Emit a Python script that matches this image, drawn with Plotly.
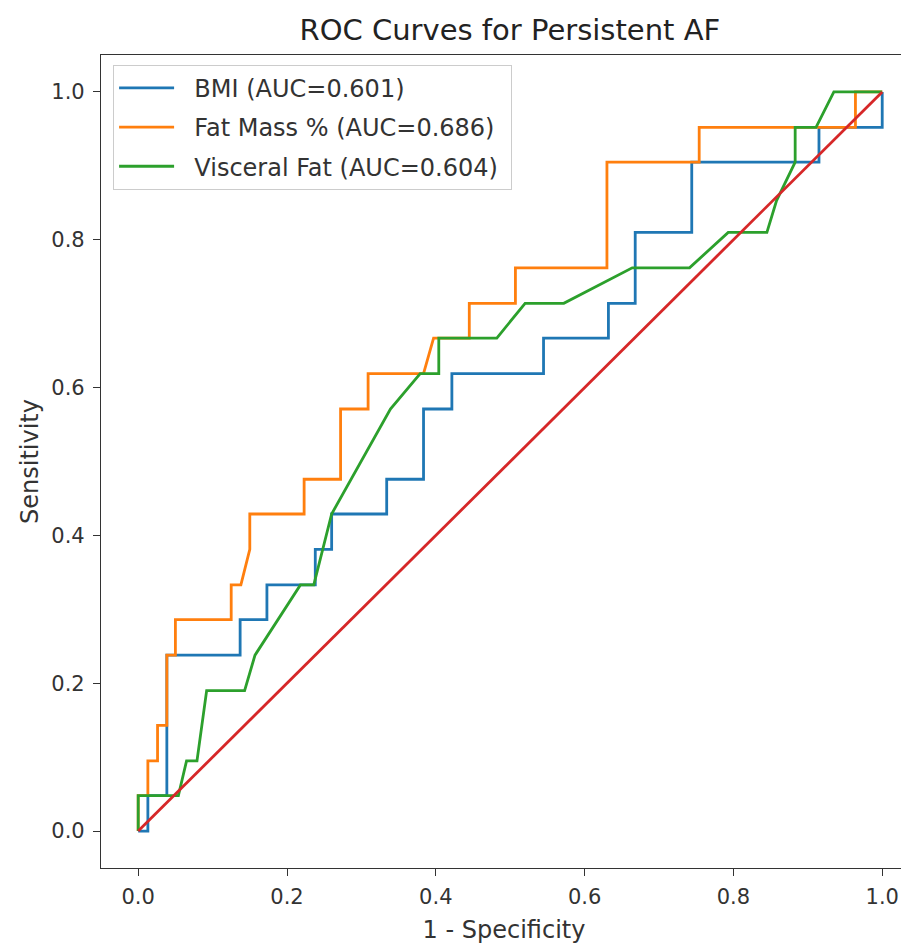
import plotly.graph_objects as go

# ROC curve vertices (1 - specificity, sensitivity)
bmi_fpr = [0.0, 0.013, 0.013, 0.0385, 0.0385, 0.137, 0.137, 0.173, 0.173, 0.238, 0.238,
           0.260, 0.260, 0.334, 0.334, 0.3835, 0.3835, 0.4216, 0.4216, 0.5448, 0.5448,
           0.632, 0.632, 0.668, 0.668, 0.744, 0.744, 0.915, 0.915, 1.0, 1.0]
bmi_tpr = [0.0, 0.0, 0.048, 0.048, 0.238, 0.238, 0.286, 0.286, 0.333, 0.333, 0.381,
           0.381, 0.429, 0.429, 0.476, 0.476, 0.571, 0.571, 0.619, 0.619, 0.667,
           0.667, 0.714, 0.714, 0.810, 0.810, 0.905, 0.905, 0.952, 0.952, 1.0]

fat_fpr = [0.0, 0.0, 0.013, 0.013, 0.026, 0.026, 0.0385, 0.0385, 0.050, 0.050, 0.125,
           0.125, 0.138, 0.150, 0.150, 0.223, 0.223, 0.272, 0.272, 0.309, 0.309,
           0.3835, 0.397, 0.445, 0.445, 0.507, 0.507, 0.630, 0.630, 0.754, 0.754,
           0.964, 0.964, 1.0]
fat_tpr = [0.0, 0.048, 0.048, 0.095, 0.095, 0.143, 0.143, 0.238, 0.238, 0.286, 0.286,
           0.333, 0.333, 0.381, 0.429, 0.429, 0.476, 0.476, 0.571, 0.571, 0.619,
           0.619, 0.667, 0.667, 0.714, 0.714, 0.762, 0.762, 0.905, 0.905, 0.952,
           0.952, 1.0, 1.0]

vis_fpr = [0.0, 0.0, 0.054, 0.065, 0.079, 0.092, 0.143, 0.157, 0.218, 0.236, 0.260,
           0.339, 0.379, 0.404, 0.404, 0.482, 0.520, 0.572, 0.664, 0.741, 0.793,
           0.845, 0.858, 0.883, 0.883, 0.911, 0.935, 1.0]
vis_tpr = [0.0, 0.048, 0.048, 0.095, 0.095, 0.190, 0.190, 0.238, 0.333, 0.333, 0.429,
           0.571, 0.619, 0.619, 0.667, 0.667, 0.714, 0.714, 0.762, 0.762, 0.810,
           0.810, 0.853, 0.905, 0.952, 0.952, 1.0, 1.0]

chance_x = [0.0, 1.0]
chance_y = [0.0, 1.0]

names = ["BMI (AUC=0.601)", "Fat Mass % (AUC=0.686)", "Visceral Fat (AUC=0.604)"]
colors = ["#1f77b4", "#ff7f0e", "#2ca02c"]
tick_vals = [0.0, 0.2, 0.4, 0.6, 0.8, 1.0]
tick_text = ["0.0", "0.2", "0.4", "0.6", "0.8", "1.0"]

FONT = "DejaVu Sans"
LW = 2.8
NBSP = "\u00a0"

fig = go.Figure()
for i, (xs, ys) in enumerate([(bmi_fpr, bmi_tpr), (fat_fpr, fat_tpr), (vis_fpr, vis_tpr)]):
    fig.add_trace(go.Scatter(x=xs, y=ys, mode="lines",
                             name=NBSP * 2 + names[i] + NBSP,
                             legendgroup=f"g{i}",
                             line=dict(color=colors[i], width=LW)))
fig.add_trace(go.Scatter(x=chance_x, y=chance_y, mode="lines", showlegend=False,
                         line=dict(color="#d62728", width=LW)))

axis_common = dict(
    showgrid=False, zeroline=False, showline=True, linecolor="#333333", linewidth=1.2,
    mirror=True, ticks="outside", ticklen=7, tickwidth=1.2, tickcolor="#333333",
    tickvals=tick_vals, ticktext=tick_text,
    tickfont=dict(family=FONT, size=21, color="#333333"),
)

fig.update_layout(
    width=901, height=937,
    margin=dict(l=93, r=2, t=47, b=77),
    paper_bgcolor="white", plot_bgcolor="white",
    title=dict(text="ROC Curves for Persistent AF", x=0.557, xanchor="center",
               y=0.9765, yanchor="middle",
               font=dict(family=FONT, size=29, color="#222222")),
    xaxis=dict(range=[-0.05, 1.0333], **axis_common, ticklabelstandoff=3,
               title=dict(text="1 - Specificity", standoff=12,
                          font=dict(family=FONT, size=24, color="#333333"))),
    yaxis=dict(range=[-0.05, 1.05], **axis_common, ticklabelstandoff=4,
               title=dict(text="Sensitivity", standoff=5,
                          font=dict(family=FONT, size=24, color="#333333"))),
    legend=dict(x=0.015, y=0.988, xanchor="left", yanchor="top",
                bgcolor="white", bordercolor="#cccccc", borderwidth=1,
                font=dict(family=FONT, size=24, color="#333333"),
                itemwidth=55, tracegroupgap=5, traceorder="grouped"),
)

fig.write_html("out.html")
